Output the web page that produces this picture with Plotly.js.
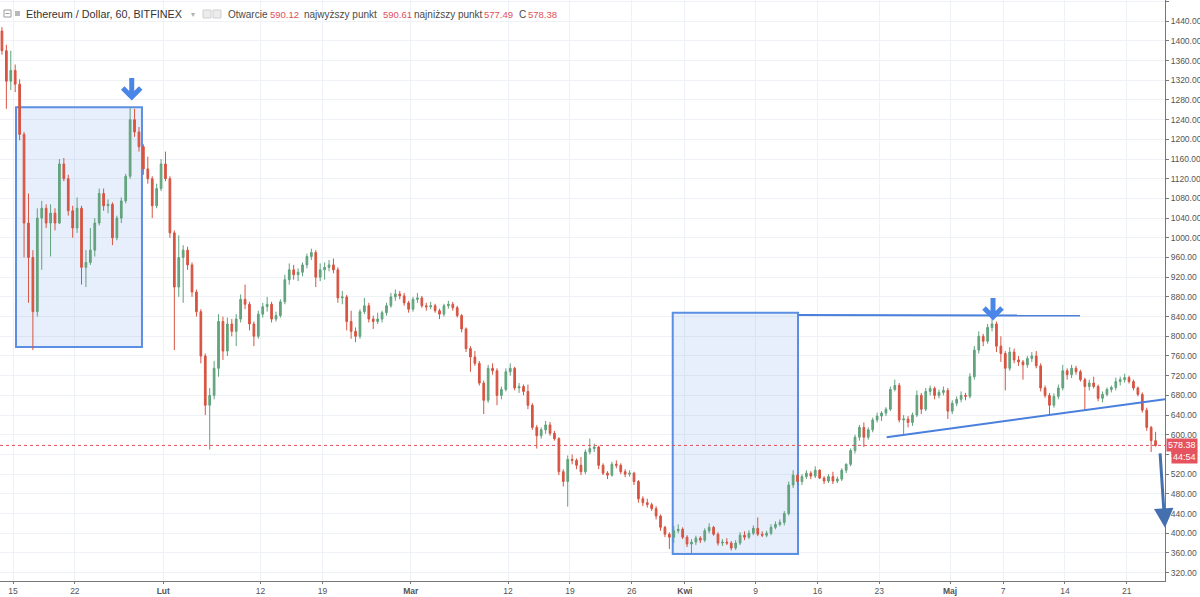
<!DOCTYPE html>
<html>
<head>
<meta charset="utf-8">
<script src="https://cdn.plot.ly/plotly-3.0.1.min.js"></script>
<style>
  html, body { margin: 0; padding: 0; background: #fff; }
  #chart { width: 1200px; height: 597px; }
</style>
</head>
<body>
<div id="chart"></div>
<script>
// ---- DATA (12-hour candles) ----
const candleStart = '2018-01-13T18:00:00Z';
const candleStepHours = 12;

const openV = [
1420,1380,1318,1340,1312,1210,1030,960,850,1040,
1060,1030,1050,1030,1150,1120,1055,1020,1060,940,
950,975,1030,1090,1065,1068,1000,1040,1075,1125,
1240,1215,1185,1140,1120,1065,1100,1150,1120,1010,
900,960,975,945,890,850,760,660,680,735,
830,770,825,810,835,875,865,825,800,845,
860,865,835,842,870,915,935,925,930,945,
962,970,920,935,940,945,935,878,880,830,
810,800,850,862,835,830,835,848,862,880,
886,882,868,855,875,878,862,860,862,852,
845,862,865,858,842,815,775,758,745,705,
670,735,730,680,692,728,735,695,698,688,
660,615,598,610,620,603,592,525,505,550,
548,538,525,565,572,575,538,522,518,540,
538,525,520,522,505,470,462,458,450,435,
412,398,392,405,408,392,378,382,390,386,
405,412,398,380,382,380,370,380,396,392,
400,410,398,396,400,412,418,422,440,498,
518,505,515,522,516,528,512,506,515,506,
510,528,540,568,595,615,595,610,630,638,
644,652,692,700,630,632,625,640,680,652,
688,694,680,686,690,648,664,672,680,678,
718,772,800,790,818,825,780,765,735,768,
752,748,742,755,760,740,695,680,660,678,
695,730,722,735,728,712,698,705,698,674,
682,692,696,708,712,716,708,695,682,650,
615,588];

const highV = [
1428,1392,1380,1352,1322,1215,1090,975,1060,1075,
1068,1068,1060,1160,1162,1128,1065,1082,1065,975,
1020,1040,1100,1100,1078,1072,1045,1082,1130,1265,
1262,1225,1190,1165,1125,1110,1160,1175,1125,1015,
1005,985,982,950,895,855,765,695,750,845,
840,838,835,845,885,905,870,830,852,868,
880,870,850,875,925,948,945,938,950,968,
978,975,948,950,955,958,940,892,884,852,
818,855,878,868,842,848,852,868,888,895,
892,888,872,880,888,882,868,870,866,856,
866,872,870,862,845,818,780,770,750,710,
742,745,735,698,735,745,738,705,702,702,
664,620,615,628,626,608,595,530,558,560,
552,555,570,592,582,578,542,526,545,548,
542,530,528,525,508,475,470,462,455,438,
415,402,415,418,412,396,388,395,394,410,
420,415,402,388,390,384,386,402,404,406,
416,432,404,405,418,424,428,445,505,528,
522,520,528,526,536,530,516,520,525,515,
532,542,572,600,620,625,615,635,645,648,
656,698,712,705,640,638,645,690,685,695,
700,698,692,698,695,670,678,688,685,725,
780,810,805,825,835,830,800,770,778,775,
760,752,760,768,770,745,700,685,684,702,
742,735,742,740,732,716,712,718,702,688,
696,700,716,718,724,720,712,698,686,655,
618,606];

const lowV = [
1372,1262,1300,1296,1198,960,868,772,840,935,
1020,962,1015,1028,1115,1045,1000,1010,905,900,
945,962,1025,1055,1050,985,995,1030,1070,1120,
1205,1175,1128,1110,1040,1060,1095,1115,1000,772,
880,868,935,880,840,745,640,570,672,718,
752,760,800,780,828,855,812,780,795,838,
850,828,830,838,865,905,915,912,922,938,
955,900,912,915,932,928,868,865,812,795,
788,795,845,828,815,825,828,842,858,872,
875,862,848,850,868,858,852,855,848,835,
840,856,852,838,808,768,728,740,700,642,
665,722,660,672,688,720,690,685,680,652,
610,572,592,602,598,588,518,495,454,540,
530,518,520,560,565,530,518,510,515,532,
520,514,515,498,462,455,452,445,428,405,
392,368,380,400,388,372,358,376,380,382,
400,395,375,374,376,365,366,376,386,388,
396,394,392,392,396,408,414,416,436,492,
498,498,510,510,512,510,500,502,500,502,
506,522,536,562,588,575,590,605,625,628,
638,648,688,625,600,615,618,636,642,648,
680,672,674,680,632,642,658,666,670,674,
712,765,780,785,810,768,748,690,730,745,
740,712,736,748,735,688,675,642,655,672,
690,712,715,722,708,648,690,694,668,666,
678,686,690,700,706,704,690,678,645,608,
565,576];

const closeV = [
1380,1318,1340,1312,1210,1030,960,850,1040,1060,
1030,1050,1030,1150,1120,1055,1020,1060,940,950,
975,1030,1090,1065,1068,1000,1040,1075,1125,1240,
1215,1185,1140,1120,1065,1100,1150,1120,1010,900,
960,975,945,890,850,760,660,680,735,830,
770,825,810,835,875,865,825,800,845,860,
865,835,842,870,915,935,925,930,945,962,
970,920,935,940,945,935,878,880,830,810,
800,850,862,835,830,835,848,862,880,886,
882,868,855,875,878,862,860,862,852,845,
862,865,858,842,815,775,758,745,705,670,
735,730,680,692,728,735,695,698,688,660,
615,598,610,620,603,592,525,505,550,548,
538,525,565,572,575,538,522,518,540,538,
525,520,522,505,470,462,458,450,435,412,
398,392,405,408,392,378,382,390,386,405,
412,398,380,382,380,370,380,396,392,400,
410,398,396,400,412,418,422,440,498,518,
505,515,522,516,528,512,506,515,506,510,
528,540,568,595,615,595,610,630,638,644,
652,692,700,630,632,625,640,680,652,688,
694,680,686,690,648,664,672,680,678,718,
772,800,790,818,825,780,765,735,768,752,
748,742,755,760,740,695,680,660,678,695,
730,722,735,728,712,698,705,698,674,682,
692,696,708,712,716,708,695,682,650,615,
588,578.38];

const tickDates = ['2018-01-15','2018-01-22','2018-02-01','2018-02-12','2018-02-19','2018-03-01',
  '2018-03-12','2018-03-19','2018-03-26','2018-04-01','2018-04-09','2018-04-16','2018-04-23',
  '2018-05-01','2018-05-07','2018-05-14','2018-05-21'];
const tickLabels = ['15','22','<b>Lut</b>','12','19','<b>Mar</b>','12','19','26','<b>Kwi</b>','9','16','23','<b>Maj</b>','7','14','21'];

const symbolTitle = 'Ethereum / Dollar, 60, BITFINEX';
const headerLabels = ['Otwarcie', 'najwyższy punkt', 'najniższy punkt', 'C'];
const headerValues = ['590.12', '590.61', '577.49', '578.38'];
const lastPrice = 578.38;
const countdown = '44:54';

// ---- build ----
const t0 = Date.parse(candleStart);
const times = openV.map((_, i) => new Date(t0 + i * candleStepHours * 3600e3).toISOString().slice(0,16).replace('T',' '));

const W = 1165, H = 581;   // plot area in pixels
const px = v => v / W;
const py = v => 1 - v / H;

const trace = {
  type: 'candlestick',
  x: times, open: openV, high: highV, low: lowV, close: closeV,
  increasing: {line: {color: '#5fa27b', width: 1}, fillcolor: '#6ba583'},
  decreasing: {line: {color: '#d75442', width: 1}, fillcolor: '#d75442'},
  whiskerwidth: 0,
  hoverinfo: 'skip'
};

const blue = '#5b8fe3';
const shapes = [
  {type:'rect', xref:'x', yref:'y', x0:'2018-01-15 08:10', x1:'2018-01-29 14:10', y0:778, y1:1265,
   fillcolor:'rgba(100,149,237,0.15)', line:{color:blue, width:2}, layer:'between'},
  {type:'rect', xref:'x', yref:'y', x0:'2018-03-30 15:07', x1:'2018-04-13 19:12', y0:358, y1:848,
   fillcolor:'rgba(100,149,237,0.15)', line:{color:blue, width:2}, layer:'between'},
  {type:'line', xref:'x', yref:'y', x0:'2018-04-13 19:12', x1:'2018-05-15 16:50', y0:843, y1:842,
   line:{color:'#4a7fdc', width:2}},
  {type:'line', xref:'x', yref:'y', x0:'2018-04-23 20:00', x1:'2018-05-25 07:36', y0:595, y1:672,
   line:{color:'#4a7fdc', width:2}},
  {type:'line', xref:'paper', yref:'y', x0:0, x1:1, y0:lastPrice, y1:lastPrice,
   line:{color:'#e0505c', width:1, dash:'dot'}},
  // chevron arrows
  {type:'path', xref:'x', yref:'y', xsizemode:'pixel', ysizemode:'pixel',
   xanchor:'2018-01-28 10:20', yanchor:1282, path:'M0,21 L0,3 M-9,11 L0,2 L9,11',
   line:{color:'#4a86e8', width:5}},
  {type:'path', xref:'x', yref:'y', xsizemode:'pixel', ysizemode:'pixel',
   xanchor:'2018-05-05 20:40', yanchor:835, path:'M0,21 L0,3 M-9,11 L0,2 L9,11',
   line:{color:'#4a86e8', width:5}},
  // header icons
  {type:'rect', xref:'paper', yref:'paper', x0:px(4), x1:px(11), y0:py(17), y1:py(10), line:{color:'#9a9a9a', width:1}},
  {type:'line', xref:'paper', yref:'paper', x0:px(5.5), x1:px(9.5), y0:py(13.5), y1:py(13.5), line:{color:'#9a9a9a', width:1}},
  {type:'rect', xref:'paper', yref:'paper', x0:px(15), x1:px(20), y0:py(16), y1:py(11), fillcolor:'#b8b8b8', line:{width:0}},
  {type:'rect', xref:'paper', yref:'paper', x0:px(203), x1:px(211), y0:py(18), y1:py(10), fillcolor:'#ececec', line:{color:'#d0d0d0', width:1}},
  {type:'rect', xref:'paper', yref:'paper', x0:px(213), x1:px(221), y0:py(18), y1:py(10), fillcolor:'#ececec', line:{color:'#d0d0d0', width:1}}
];

const FAM = 'Liberation Sans, Arial, sans-serif';
const hdrFont = {family:FAM, size:10, color:'#4a4a4a'};
const redFont = {family:FAM, size:9.5, color:'#e0505c'};
const hdr = (text, x, font) => ({xref:'paper', yref:'paper', x:0, y:1, xshift:x, yshift:-14,
  xanchor:'left', yanchor:'middle', text:text, showarrow:false, font:font});

const annotations = [
  hdr(symbolTitle, 24, {family:FAM, size:10.8, color:'#333'}),
  hdr('▾', 189, {family:'DejaVu Sans', size:8, color:'#b0b0b0'}),
  hdr(headerLabels[0], 226, hdrFont), hdr(headerValues[0], 268, redFont),
  hdr(headerLabels[1], 302, hdrFont), hdr(headerValues[1], 381, redFont),
  hdr(headerLabels[2], 412, hdrFont), hdr(headerValues[2], 482, redFont),
  hdr(headerLabels[3], 517, hdrFont), hdr(headerValues[3], 526, redFont),
  {xref:'paper', yref:'y', x:1, y:lastPrice, xanchor:'left', yanchor:'middle', xshift:1,
   text:lastPrice.toFixed(2), showarrow:false, bgcolor:'#e5535e', borderpad:1,
   font:{family:FAM, size:9, color:'#fff'}},
  {xref:'paper', yref:'y', x:1, y:lastPrice, xanchor:'left', yanchor:'middle', xshift:6, yshift:-12,
   text:countdown, showarrow:false, bgcolor:'#e5535e', borderpad:1,
   font:{family:FAM, size:9, color:'#fff'}},
  {xref:'paper', yref:'y', x:1, y:411, ax:-5, ay:-76, axref:'pixel', ayref:'pixel', text:'',
   showarrow:true, arrowhead:2, arrowsize:1.3, arrowwidth:3, arrowcolor:'#4470b0'}
];

const layout = {
  width: 1200, height: 597,
  margin: {l:0, r:35, t:0, b:16, pad:0},
  paper_bgcolor: '#fff', plot_bgcolor: '#fff',
  showlegend: false,
  boxgap: 0.45,
  font: {family:FAM, size:9, color:'#555'},
  xaxis: {
    type:'date', range:['2018-01-13 12:42', '2018-05-25 07:36'],
    rangeslider:{visible:false},
    tickmode:'array', tickvals:tickDates, ticktext:tickLabels,
    showgrid:true, gridcolor:'#eef1f5', gridwidth:1,
    showline:true, linecolor:'#777', linewidth:1,
    ticks:'outside', ticklen:2, tickcolor:'#777',
    tickfont:{size:8.5, color:'#555'}, zeroline:false, fixedrange:true
  },
  yaxis: {
    side:'right', range:[303, 1483],
    tick0:320, dtick:40, tickformat:'.2f',
    showgrid:true, gridcolor:'#eef1f5', gridwidth:1,
    showline:true, linecolor:'#777', linewidth:1,
    ticks:'outside', ticklen:3, tickcolor:'#777',
    tickfont:{size:8.5, color:'#555'}, zeroline:false, fixedrange:true
  },
  shapes: shapes,
  annotations: annotations
};

Plotly.newPlot('chart', [trace], layout, {displayModeBar:false, staticPlot:true});
</script>
</body>
</html>
